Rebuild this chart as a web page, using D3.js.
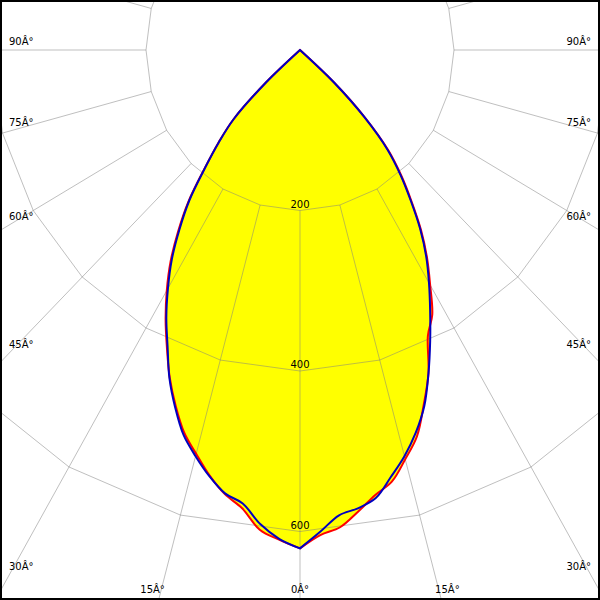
<!DOCTYPE html>
<html><head><meta charset="utf-8">
<script src="https://cdn.jsdelivr.net/npm/d3@7"></script>
<style>html,body{margin:0;padding:0;background:#fff}svg{display:block}</style>
</head><body>
<script>
// ---- data ----
const angles = [0,2.5,5,7.5,10,12.5,15,17.5,20,22.5,25,27.5,30,32.5,35,37.5,40,42.5,45,47.5,50,
                52.5,55,57.5,60,62.5,65,67.5,70,72.5,75,77.5,80,82.5,85,87.5,90];
// C180 / C0 plane (red): left half, right half
const redLeft  = [621,611,600,576,562,543,521,500,472,442,409,378,346,313,276,238,193,157,122,60,0,0,0,0,0,0,0,0,0,0,0,0,0,0,0,0,0];
const redRight = [621,605,597,580,563,551,528,505,470,436,393,372,338,307,274,238,205,170,120,60,0,0,0,0,0,0,0,0,0,0,0,0,0,0,0,0,0];
// C270 / C90 plane (blue): left half, right half
const blueLeft  = [621,610,593,570,561,544,524,503,474,443,407,376,343,310,273,236,192,156,122,60,0,0,0,0,0,0,0,0,0,0,0,0,0,0,0,0,0];
const blueRight = [621,601,582,576,567,545,524,500,472,436,400,366,335,305,272,236,203,168,118,60,0,0,0,0,0,0,0,0,0,0,0,0,0,0,0,0,0];
const ringValues = [200,400,600,800];
const ringLabels = ["200","400","600"];
const gridStep = 15;
const sideTicks = [90,75,60,45,30];
const bottomTicks = [{a:15,s:-1},{a:0,s:0},{a:15,s:1}];
const degSuffix = "Â°";

// ---- layout ----
const W = 600, H = 600, cx = 300, cy = 50;
const rx = d3.scaleLinear().domain([0,200]).range([0,154]);
const ry = d3.scaleLinear().domain([0,200]).range([0,160.5]);
const rad = d => d*Math.PI/180;
const pt = (phi, I) => [cx + rx(I)*Math.sin(rad(phi)), cy + ry(I)*Math.cos(rad(phi))];

const svg = d3.select("body").append("svg").attr("width",W).attr("height",H);
svg.append("defs").append("clipPath").attr("id","clip")
  .append("rect").attr("x",0).attr("y",0).attr("width",W).attr("height",H);
const g = svg.append("g").attr("clip-path","url(#clip)");

// each half is an open smooth curve from the 0° tip to the first zero (apex), so both tips stay sharp
const smoothOpen = d3.line().curve(d3.curveCatmullRom.alpha(0.5));
function halfPoints(values, side){
  const pts = [];
  for(let i=0;i<angles.length;i++){
    pts.push(pt(side*angles[i], values[i]));
    if(values[i]===0) break;
  }
  return pts;
}
function curvePath(left, right){
  const r = smoothOpen(halfPoints(right, 1));
  const l = smoothOpen(halfPoints(left, -1).reverse());
  return r + "L" + l.slice(1) + "Z";
}
const line = d3.line().curve(d3.curveLinearClosed);
const redPath = curvePath(redLeft, redRight);
const bluePath = curvePath(blueLeft, blueRight);

// fill
g.append("path").attr("d", redPath).attr("fill","#ffff00");
g.append("path").attr("d", bluePath).attr("fill","#ffff00");

// grid
const grid = g.append("g").attr("stroke","#808080").attr("stroke-opacity",0.5).attr("fill","none").attr("stroke-width",1);
const gridAngles = d3.range(0,360,gridStep);
ringValues.forEach(v=>{
  grid.append("path").attr("d", line(gridAngles.map(a=>pt(a,v))));
});
gridAngles.forEach(a=>{
  const p0 = pt(a, ringValues[0]), p1 = pt(a, 1200);
  grid.append("line").attr("x1",p0[0]).attr("y1",p0[1]).attr("x2",p1[0]).attr("y2",p1[1]);
});

// curves
g.append("path").attr("d", redPath).attr("fill","none").attr("stroke","#ff0000").attr("stroke-width",2).attr("stroke-linejoin","miter");
g.append("path").attr("d", bluePath).attr("fill","none").attr("stroke","#0000c0").attr("stroke-width",2).attr("stroke-linejoin","miter");

// ring labels
const font = "'DejaVu Sans', sans-serif";
ringLabels.forEach((t,i)=>{
  const p = pt(0, ringValues[i]);
  svg.append("text").attr("x",p[0]).attr("y",p[1]-3).attr("text-anchor","middle")
    .attr("font-family",font).attr("font-size",10).attr("fill","#000").text(t);
});

// angle labels on left / right edges
sideTicks.forEach(a=>{
  [-1,1].forEach(s=>{
    const dx = s*rx(1)*Math.sin(rad(a)), dy = ry(1)*Math.cos(rad(a));
    const xEdge = s<0 ? 9 : W-9;
    const t = (xEdge - cx)/dx;
    const y = cy + t*dy;
    svg.append("text").attr("x", xEdge).attr("y", y-5)
      .attr("text-anchor", s<0 ? "start" : "end")
      .attr("font-family",font).attr("font-size",10).attr("fill","#000").text(a+degSuffix);
  });
});
// angle labels on bottom edge
bottomTicks.forEach(d=>{
  const dx = d.s*rx(1)*Math.sin(rad(d.a)), dy = ry(1)*Math.cos(rad(d.a));
  const t = (H - cy)/dy;
  const x = cx + t*dx + d.s*6;
  svg.append("text").attr("x", x).attr("y", 593).attr("text-anchor","middle")
    .attr("font-family",font).attr("font-size",10).attr("fill","#000").text(d.a+degSuffix);
});

// border
svg.append("rect").attr("x",1).attr("y",1).attr("width",W-2).attr("height",H-2)
  .attr("fill","none").attr("stroke","#000").attr("stroke-width",2);
</script>
</body></html>
